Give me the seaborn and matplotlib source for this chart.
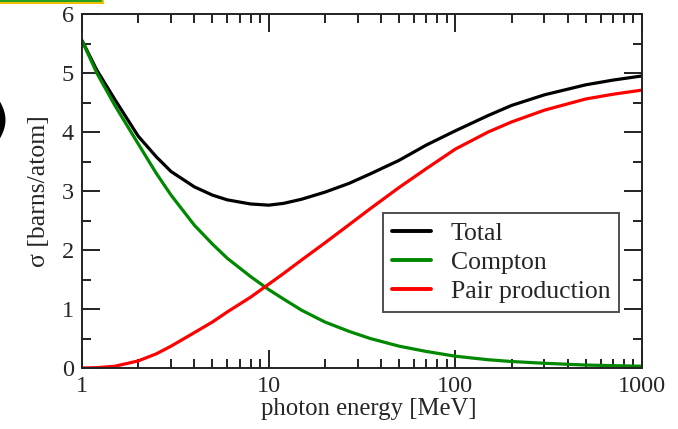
import numpy as np
import pandas as pd
import matplotlib
matplotlib.use("Agg")
import matplotlib.pyplot as plt
import matplotlib.ticker as mticker
from matplotlib.patches import Rectangle
import seaborn as sns

energy = [1, 1.2, 1.5, 2, 2.5, 3, 4, 5, 6, 8, 10, 12, 15, 20, 27, 35, 50, 70, 100, 150, 200, 300, 500, 700, 1000]
total = [5.55, 5.05, 4.55, 3.93, 3.58, 3.33, 3.07, 2.93, 2.85, 2.78, 2.76, 2.79, 2.86, 2.98, 3.13, 3.29, 3.52, 3.78, 4.02, 4.28, 4.45, 4.63, 4.8, 4.88, 4.95]
compton = [5.55, 5.0, 4.45, 3.8, 3.3, 2.93, 2.42, 2.1, 1.86, 1.55, 1.33, 1.17, 0.98, 0.78, 0.62, 0.5, 0.37, 0.28, 0.2, 0.14, 0.11, 0.08, 0.05, 0.04, 0.03]
pair = [0.0, 0.005, 0.03, 0.12, 0.24, 0.37, 0.6, 0.78, 0.95, 1.2, 1.42, 1.6, 1.83, 2.12, 2.43, 2.70, 3.06, 3.38, 3.71, 4.0, 4.17, 4.37, 4.56, 4.64, 4.71]
series_names = ["Total", "Compton", "Pair production"]
colors = ["#000000", "#008800", "#ff0000"]

df = pd.DataFrame({
    "E": energy * 3,
    "sigma": total + compton + pair,
    "series": [series_names[0]] * len(energy) + [series_names[1]] * len(energy) + [series_names[2]] * len(energy),
})

sns.set_theme(style="white")
plt.rcParams["font.family"] = ["Liberation Serif", "DejaVu Serif"]

fig = plt.figure(figsize=(6.78, 4.29), dpi=100)
ax = fig.add_axes([82 / 678, 61 / 429, 560 / 678, 354 / 429])

sns.lineplot(data=df, x="E", y="sigma", hue="series", palette=dict(zip(series_names, colors)),
             hue_order=series_names, linewidth=2.3, ax=ax, legend=True)

ax.set_xscale("log")
ax.set_xlim(1, 1000)
ax.set_ylim(0, 6)
ax.xaxis.set_major_locator(mticker.FixedLocator([1, 10, 100, 1000]))
ax.xaxis.set_major_formatter(mticker.FixedFormatter(["1", "10", "100", "1000"]))
ax.xaxis.set_minor_locator(mticker.LogLocator(base=10, subs=np.arange(2, 10), numticks=20))
ax.xaxis.set_minor_formatter(mticker.NullFormatter())
ax.yaxis.set_major_locator(mticker.MultipleLocator(1))
ax.yaxis.set_minor_locator(mticker.MultipleLocator(0.5))

ax.tick_params(which="both", direction="in", top=True, right=True, bottom=True, left=True,
               color="#222222", width=1.4, labelsize=17.5, pad=6)
ax.tick_params(which="major", length=13)
ax.tick_params(which="minor", length=6.5)
for s in ax.spines.values():
    s.set_color("#222222")
    s.set_linewidth(1.4)

ax.set_xlabel("photon energy [MeV]", fontsize=17.8, labelpad=1)
ax.xaxis.set_label_coords(0.5125, -0.085)
ax.set_ylabel("σ [barns/atom]", fontsize=18.5, labelpad=8)

leg = ax.legend(loc="upper left", bbox_to_anchor=(301 / 560, 155 / 354), fontsize=18.5, frameon=True,
                fancybox=False, edgecolor="#222222", handlelength=1.5, handletextpad=0.78,
                labelspacing=0.23, borderpad=0.35, borderaxespad=0)
leg.get_frame().set_linewidth(1.4)
for line in leg.get_lines():
    line.set_linewidth(2.8)

fig.patches.append(Rectangle((-0.01, 1 - 3 / 429), 103 / 678 + 0.01, 0.05, transform=fig.transFigure,
                             facecolor="#22a022", edgecolor="#f0c000", linewidth=1.5, figure=fig))
fig.text(9 / 678, 1 - 121 / 429, ")", fontsize=32, ha="right", va="center", family="DejaVu Sans",
         fontweight="bold", color="black")

fig.savefig("out.png", dpi=100)
